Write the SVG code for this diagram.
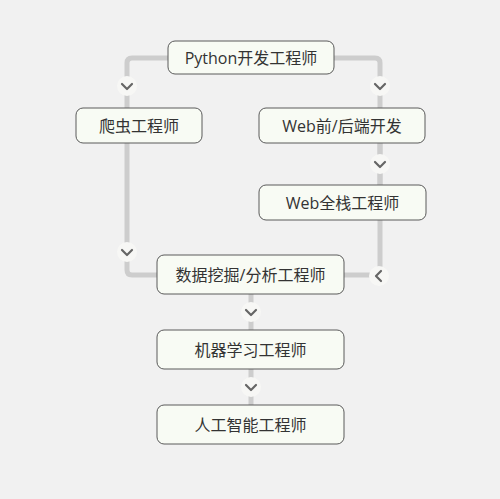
<svg xmlns="http://www.w3.org/2000/svg" width="500" height="499" viewBox="0 0 500 499">
<style>
.node rect{fill:#f8fbf4;stroke:#5a5a5a;stroke-width:1}
.node text{font-family:"Open Sans","Noto Sans CJK SC",sans-serif;font-size:16px;fill:#333;text-anchor:middle;dominant-baseline:central}
.line{fill:none;stroke:#cdcdcd;stroke-width:5}
.knob circle{fill:#f7f7f5}
.knob path{fill:none;stroke:#666;stroke-width:2.2;stroke-linecap:round;stroke-linejoin:round}
</style>
<rect x="0" y="0" width="500" height="499" fill="#f1f1f1"/>
<g id="connectors">
<path class="line" d="M168 58 H132 Q127 58 127 63 V270 Q127 275 132 275 H157"/>
<path class="line" d="M334 58 H375 Q380 58 380 63 V270 Q380 275 375 275 H344"/>
<path class="line" d="M380 143 V185"/>
<path class="line" d="M251 294 V330"/>
<path class="line" d="M251 369 V405"/>
<g class="knob"><circle cx="127" cy="86" r="10"/><path d="M122 84 L127 89 L132 84"/></g>
<g class="knob"><circle cx="380" cy="86" r="10"/><path d="M375 84 L380 89 L385 84"/></g>
<g class="knob"><circle cx="380" cy="164" r="10"/><path d="M375 162 L380 167 L385 162"/></g>
<g class="knob"><circle cx="127" cy="252" r="10"/><path d="M122 250 L127 255 L132 250"/></g>
<g class="knob"><circle cx="379" cy="276" r="10"/><path d="M381 271 L376 276 L381 281"/></g>
<g class="knob"><circle cx="251" cy="312" r="10"/><path d="M246 310 L251 315 L256 310"/></g>
<g class="knob"><circle cx="251" cy="387" r="10"/><path d="M246 385 L251 390 L256 385"/></g>
</g>
<g id="python" class="node"><rect x="168" y="41" width="166" height="33" rx="7"/><text x="251" y="57.5">Python开发工程师</text></g>
<g id="crawler" class="node"><rect x="76" y="108" width="126" height="35" rx="7"/><text x="139" y="125.5">爬虫工程师</text></g>
<g id="web" class="node"><rect x="259" y="108" width="166" height="35" rx="7"/><text x="342" y="125.5">Web前/后端开发</text></g>
<g id="fullstack" class="node"><rect x="259" y="185" width="167" height="35" rx="7"/><text x="342.5" y="202.5">Web全栈工程师</text></g>
<g id="datamining" class="node"><rect x="157" y="255" width="187" height="39" rx="7"/><text x="250.5" y="274.5">数据挖掘/分析工程师</text></g>
<g id="ml" class="node"><rect x="157" y="330" width="187" height="39" rx="7"/><text x="250.5" y="349.5">机器学习工程师</text></g>
<g id="ai" class="node"><rect x="157" y="405" width="187" height="39" rx="7"/><text x="250.5" y="424.5">人工智能工程师</text></g>
</svg>
